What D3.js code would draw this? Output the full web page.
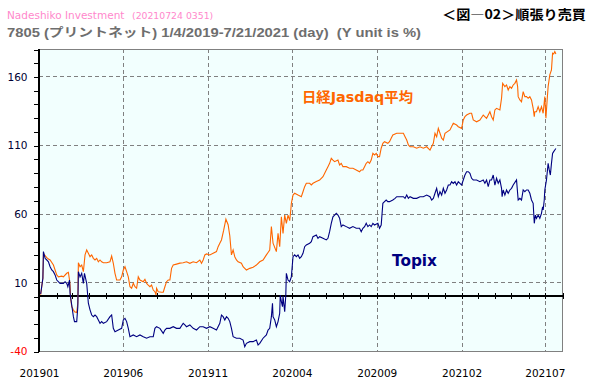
<!DOCTYPE html>
<html><head><meta charset="utf-8">
<script src="https://cdn.jsdelivr.net/npm/d3@7"></script>
<style>body{margin:0;background:#fff}svg{display:block}</style>
</head><body>
<script>
// ---- data ----
const seriesNames = ["日経Jasdaq平均", "Topix"];
const yLabelValues = [160, 110, 60, 10, -40];
const xLabelDates = ["2019-01-01","2019-06-01","2019-11-01","2020-04-01","2020-09-01","2021-02-01","2021-07-01"];
const xLabels = ["201901","201906","201911","202004","202009","202102","202107"];

const jasdaq = [["2019-01-04",1],["2019-01-08",13],["2019-01-09",31],["2019-01-15",28],["2019-01-18",27],["2019-01-21",26.3],["2019-01-27",22.6],["2019-02-02",15.4],["2019-02-05",14],["2019-02-11",14.5],["2019-02-14",14],["2019-02-20",16.6],["2019-02-23",17.3],["2019-02-25",11.7],["2019-02-26",8],["2019-02-27",-1.6],["2019-03-01",-7.7],["2019-03-04",-10],["2019-03-06",-11.4],["2019-03-10",-12],["2019-03-12",-5],["2019-03-13",24.3],["2019-03-16",21.4],["2019-03-19",22.6],["2019-03-22",17.8],["2019-03-25",30],["2019-03-28",33.6],["2019-03-31",31.2],["2019-04-03",28.7],["2019-04-06",30],["2019-04-09",27.5],["2019-04-12",26.3],["2019-04-15",27.5],["2019-04-18",25],["2019-04-21",26.3],["2019-04-24",25],["2019-04-27",24.3],["2019-05-03",24.3],["2019-05-09",25],["2019-05-12",29.2],["2019-05-15",23.9],["2019-05-18",16.6],["2019-05-21",11.7],["2019-05-27",11.7],["2019-05-30",14],["2019-06-02",19],["2019-06-05",21.4],["2019-06-08",17.8],["2019-06-11",14],["2019-06-14",6.8],["2019-06-17",5.7],["2019-06-20",9.3],["2019-06-23",6.8],["2019-06-26",5.7],["2019-06-29",14],["2019-07-02",11.7],["2019-07-08",10.5],["2019-07-11",12.2],["2019-07-14",9.3],["2019-07-17",8],["2019-07-20",6.8],["2019-07-23",8],["2019-07-26",4.4],["2019-07-29",3.2],["2019-07-31",0.8],["2019-08-01",5.7],["2019-08-04",3.2],["2019-08-10",2.8],["2019-08-13",2.8],["2019-08-16",6.8],["2019-08-19",10.5],["2019-08-22",11.7],["2019-08-25",11.7],["2019-08-28",20.2],["2019-08-31",22.6],["2019-09-06",23.3],["2019-09-12",24],["2019-09-18",24.3],["2019-09-24",25],["2019-09-30",23.9],["2019-10-06",25],["2019-10-12",24.3],["2019-10-18",26.3],["2019-10-21",23.9],["2019-10-24",26.3],["2019-10-27",30],["2019-10-30",30.7],["2019-11-05",30],["2019-11-11",31.2],["2019-11-17",32.4],["2019-11-20",36],["2019-11-23",38.5],["2019-11-26",40.9],["2019-11-30",48],["2019-12-04",56],["2019-12-08",52],["2019-12-11",44],["2019-12-14",30],["2019-12-17",33.6],["2019-12-20",28.7],["2019-12-23",26.3],["2019-12-26",25],["2020-01-01",23.9],["2020-01-04",21.4],["2020-01-07",20.2],["2020-01-10",19],["2020-01-16",20.2],["2020-01-22",21],["2020-01-28",22.6],["2020-02-03",25],["2020-02-09",26.3],["2020-02-15",30],["2020-02-18",31.8],["2020-02-21",33.6],["2020-02-24",50.6],["2020-02-27",38.5],["2020-03-04",32.4],["2020-03-07",45.7],["2020-03-10",36],["2020-03-13",57.8],["2020-03-16",45.7],["2020-03-19",59],["2020-03-22",53],["2020-03-25",59],["2020-03-28",55],["2020-03-30",62.7],["2020-03-31",67.6],["2020-04-03",73.6],["2020-04-06",74.9],["2020-04-12",73.6],["2020-04-18",72.4],["2020-04-21",76],["2020-04-24",79.7],["2020-04-27",82.2],["2020-05-03",82.2],["2020-05-06",81],["2020-05-09",82.2],["2020-05-15",83.4],["2020-05-21",84.6],["2020-05-24",85.8],["2020-05-27",87],["2020-06-02",91.9],["2020-06-05",94.3],["2020-06-08",96.7],["2020-06-11",100.4],["2020-06-14",99.1],["2020-06-17",97.9],["2020-06-23",99.1],["2020-06-26",95.5],["2020-06-29",96.7],["2020-07-02",94.3],["2020-07-08",94.3],["2020-07-14",93.1],["2020-07-20",93.1],["2020-07-26",91.9],["2020-08-01",90.6],["2020-08-04",91.9],["2020-08-07",91.9],["2020-08-10",94.3],["2020-08-13",96.7],["2020-08-16",97.9],["2020-08-19",96.7],["2020-08-22",99.1],["2020-08-25",104],["2020-08-28",102.8],["2020-08-31",104],["2020-09-03",101.6],["2020-09-06",101.6],["2020-09-09",107.7],["2020-09-12",111.3],["2020-09-15",112.5],["2020-09-21",111.3],["2020-09-24",112.5],["2020-09-27",115],["2020-09-30",117.4],["2020-10-07",118.6],["2020-10-13",118.6],["2020-10-19",118.6],["2020-10-22",116.1],["2020-10-25",113.7],["2020-10-28",110.1],["2020-10-31",108.8],["2020-11-06",108.8],["2020-11-12",107.7],["2020-11-18",108.8],["2020-11-24",107.7],["2020-11-30",108.8],["2020-12-06",106.4],["2020-12-12",111.3],["2020-12-15",118.6],["2020-12-18",116.1],["2020-12-21",122.2],["2020-12-24",118.6],["2020-12-27",115],["2020-12-30",113.7],["2021-01-02",118.6],["2021-01-11",121],["2021-01-17",125.9],["2021-01-23",124.6],["2021-01-26",123.4],["2021-02-01",122.2],["2021-02-04",128.3],["2021-02-07",130.7],["2021-02-10",131.9],["2021-02-16",133.2],["2021-02-19",133.2],["2021-02-22",128.3],["2021-02-28",127],["2021-03-06",128.3],["2021-03-12",131.9],["2021-03-18",129.5],["2021-03-21",131.9],["2021-03-24",134.3],["2021-03-27",130.7],["2021-03-30",128.3],["2021-04-02",135.6],["2021-04-05",136.8],["2021-04-11",135.6],["2021-04-14",144.1],["2021-04-16",155],["2021-04-20",152.6],["2021-04-23",153.8],["2021-04-26",150.1],["2021-04-29",152.6],["2021-05-02",151.4],["2021-05-05",153.8],["2021-05-08",155],["2021-05-11",157.4],["2021-05-13",152.6],["2021-05-14",145.3],["2021-05-17",142.9],["2021-05-20",141.6],["2021-05-23",148.9],["2021-05-26",145.3],["2021-05-29",145.3],["2021-06-01",144.1],["2021-06-04",145.3],["2021-06-07",142.9],["2021-06-10",136.8],["2021-06-12",130.7],["2021-06-13",134.3],["2021-06-16",134.3],["2021-06-19",138],["2021-06-22",134.3],["2021-06-25",138],["2021-06-28",133.2],["2021-07-01",145.3],["2021-07-03",129.5],["2021-07-05",141.6],["2021-07-07",152.6],["2021-07-10",161.1],["2021-07-13",164.8],["2021-07-15",176.9],["2021-07-17",176.4],["2021-07-19",178.1],["2021-07-21",176.4]];

const topix = [["2019-01-04",1.5],["2019-01-08",13],["2019-01-09",32.4],["2019-01-12",27.5],["2019-01-15",26.3],["2019-01-18",25],["2019-01-21",21.4],["2019-01-24",19],["2019-01-27",17.8],["2019-01-30",15.4],["2019-02-02",11.7],["2019-02-08",9.3],["2019-02-14",9.3],["2019-02-17",10.5],["2019-02-20",9.3],["2019-02-22",6.8],["2019-02-25",11.7],["2019-02-26",2],["2019-03-01",-6.5],["2019-03-04",-15],["2019-03-06",-18.6],["2019-03-10",-18.6],["2019-03-12",-7.7],["2019-03-13",17.8],["2019-03-16",14],["2019-03-19",16.6],["2019-03-22",9.3],["2019-03-24",16.6],["2019-03-28",9.3],["2019-03-31",-5.2],["2019-04-03",-10],["2019-04-06",-13.8],["2019-04-09",-15],["2019-04-12",-13.8],["2019-04-15",-15],["2019-04-18",-17.4],["2019-04-21",-19.8],["2019-04-24",-18.6],["2019-04-27",-19.8],["2019-05-03",-18.6],["2019-05-09",-15],["2019-05-12",-13.8],["2019-05-15",-23.5],["2019-05-18",-25.9],["2019-05-24",-24.7],["2019-05-30",-23.5],["2019-06-02",-17.4],["2019-06-05",-16.2],["2019-06-08",-18.6],["2019-06-11",-23.5],["2019-06-14",-29.6],["2019-06-20",-28.3],["2019-06-26",-29.6],["2019-07-02",-28.3],["2019-07-08",-29.6],["2019-07-14",-30.7],["2019-07-20",-29.6],["2019-07-26",-29.6],["2019-07-29",-23.5],["2019-08-01",-22.3],["2019-08-07",-23.5],["2019-08-13",-27.1],["2019-08-16",-24.7],["2019-08-19",-23.5],["2019-08-25",-23.5],["2019-08-31",-22.3],["2019-09-06",-23.5],["2019-09-12",-23.5],["2019-09-18",-19.8],["2019-09-21",-21],["2019-09-24",-22.3],["2019-09-30",-21],["2019-10-06",-23.5],["2019-10-12",-24.7],["2019-10-18",-22.3],["2019-10-24",-22.3],["2019-10-30",-23.5],["2019-11-05",-22.3],["2019-11-11",-23.5],["2019-11-17",-24.7],["2019-11-23",-19.8],["2019-11-26",-13.8],["2019-11-29",-15],["2019-12-02",-17.4],["2019-12-05",-15],["2019-12-08",-16.2],["2019-12-11",-18.6],["2019-12-14",-23.5],["2019-12-17",-29.6],["2019-12-23",-30.7],["2019-12-29",-30.7],["2020-01-04",-32],["2020-01-07",-36.9],["2020-01-10",-34.4],["2020-01-16",-33.2],["2020-01-22",-33.2],["2020-01-28",-32],["2020-01-31",-35.6],["2020-02-03",-34.4],["2020-02-09",-30.7],["2020-02-15",-28.3],["2020-02-18",-24.7],["2020-02-21",-23.5],["2020-02-24",-15],["2020-02-26",-5.2],["2020-02-27",-15],["2020-03-01",-17.4],["2020-03-04",-22.3],["2020-03-07",-18.6],["2020-03-10",-12.5],["2020-03-11",0.8],["2020-03-13",-4],["2020-03-15",-7.7],["2020-03-16",0],["2020-03-19",-11.4],["2020-03-21",0.8],["2020-03-22",16.6],["2020-03-25",11.7],["2020-03-28",10.5],["2020-03-31",14],["2020-04-03",28.7],["2020-04-06",30],["2020-04-09",28.7],["2020-04-12",30],["2020-04-15",27.5],["2020-04-18",28.7],["2020-04-21",31.2],["2020-04-24",36],["2020-04-27",37.3],["2020-05-03",38.5],["2020-05-06",39.7],["2020-05-09",43.3],["2020-05-15",44.5],["2020-05-18",42.1],["2020-05-21",43.3],["2020-05-27",42.1],["2020-06-02",40.9],["2020-06-05",42.1],["2020-06-08",46.9],["2020-06-11",53],["2020-06-14",57.8],["2020-06-17",59],["2020-06-20",60.3],["2020-06-23",59],["2020-06-26",56.7],["2020-06-29",50.6],["2020-07-02",51.8],["2020-07-08",50.6],["2020-07-14",49.4],["2020-07-20",50.6],["2020-07-26",49.4],["2020-08-01",49.4],["2020-08-04",46.9],["2020-08-07",49.4],["2020-08-10",50.6],["2020-08-13",53],["2020-08-16",50.6],["2020-08-19",51.8],["2020-08-22",50.6],["2020-08-25",53],["2020-08-28",51.8],["2020-09-03",53],["2020-09-06",49.4],["2020-09-09",51.8],["2020-09-12",67.6],["2020-09-15",68.8],["2020-09-18",70],["2020-09-21",68.8],["2020-09-24",68.8],["2020-09-30",70],["2020-10-04",71.2],["2020-10-07",72.4],["2020-10-13",72.4],["2020-10-19",72.4],["2020-10-22",71.2],["2020-10-25",73.6],["2020-10-28",71.2],["2020-10-31",72.4],["2020-11-06",71.2],["2020-11-12",71.2],["2020-11-18",72.4],["2020-11-24",72.4],["2020-11-30",73.6],["2020-12-06",72.4],["2020-12-09",70],["2020-12-12",71.2],["2020-12-15",74.9],["2020-12-18",78.5],["2020-12-21",72.4],["2020-12-24",76.1],["2020-12-27",73.6],["2020-12-30",78.5],["2021-01-02",74.9],["2021-01-05",77.3],["2021-01-08",80.9],["2021-01-11",80.9],["2021-01-14",83.3],["2021-01-17",82.1],["2021-01-20",83.3],["2021-01-23",80.9],["2021-01-26",83.3],["2021-01-29",82.1],["2021-02-01",80.9],["2021-02-04",84.6],["2021-02-07",88.2],["2021-02-10",90.6],["2021-02-13",90.6],["2021-02-16",89.4],["2021-02-19",85.8],["2021-02-22",84.6],["2021-02-28",84.6],["2021-03-06",83.3],["2021-03-12",84.6],["2021-03-15",82.2],["2021-03-18",84.6],["2021-03-21",79.7],["2021-03-24",84.6],["2021-03-27",84.6],["2021-03-30",88.2],["2021-04-02",80.9],["2021-04-05",85.8],["2021-04-08",82.2],["2021-04-11",84.6],["2021-04-14",78.5],["2021-04-15",72.4],["2021-04-17",77.3],["2021-04-20",73.6],["2021-04-23",77.3],["2021-04-26",74.9],["2021-04-29",77.3],["2021-05-02",78.5],["2021-05-05",80.9],["2021-05-11",84.6],["2021-05-14",70],["2021-05-17",71.2],["2021-05-20",70],["2021-05-23",77.3],["2021-05-26",76.1],["2021-05-29",77.3],["2021-06-01",77.3],["2021-06-04",74.9],["2021-06-07",70],["2021-06-10",67.6],["2021-06-12",53],["2021-06-14",59],["2021-06-16",56.7],["2021-06-19",59],["2021-06-22",56.7],["2021-06-25",60.3],["2021-06-27",65.1],["2021-06-28",62.7],["2021-06-30",70],["2021-07-01",77.3],["2021-07-04",84.6],["2021-07-07",96.7],["2021-07-09",91.9],["2021-07-11",88.2],["2021-07-13",96.7],["2021-07-15",104],["2021-07-17",105.2],["2021-07-20",107],["2021-07-21",107.5]];

// ---- chart ----
const W = 590, H = 390;
const L = 39, R = 562, T = 49, B = 351;
const parse = d3.timeParse("%Y-%m-%d");
const x = d3.scaleTime().domain([parse("2019-01-01"), parse("2021-08-01")]).range([L, R]);
const y = d3.scaleLinear().domain([-40, 180]).range([B, T]);
const FONT = "'DejaVu Sans', Verdana, sans-serif";

const svg = d3.select("body").append("svg").attr("width", W).attr("height", H)
  .style("font-family", FONT);

svg.append("rect").attr("x", L).attr("y", T).attr("width", R - L).attr("height", B - T)
  .attr("fill", "#f2fffe");

// horizontal dashed grid
svg.append("g").selectAll("line").data(yLabelValues.filter(v => v > -40)).join("line")
  .attr("x1", L).attr("x2", R)
  .attr("y1", d => Math.round(y(d)) + 0.5).attr("y2", d => Math.round(y(d)) + 0.5)
  .attr("stroke", "#808080").attr("stroke-dasharray", "4,3").attr("shape-rendering", "crispEdges");

// vertical dashed grid
svg.append("g").selectAll("line").data(xLabelDates.slice(1)).join("line")
  .attr("x1", d => Math.round(x(parse(d))) + 0.5).attr("x2", d => Math.round(x(parse(d))) + 0.5)
  .attr("y1", T).attr("y2", B)
  .attr("stroke", "#808080").attr("stroke-dasharray", "4,3").attr("shape-rendering", "crispEdges");

// frame (top/right/bottom gray)
svg.append("path").attr("d", `M${L},${T + 0.5}H${R + 0.5}V${B + 0.5}H${L}`)
  .attr("fill", "none").attr("stroke", "#808080").attr("shape-rendering", "crispEdges");

// zero line with monthly ticks
const y0 = Math.round(y(0));
svg.append("line").attr("x1", L).attr("x2", R + 1).attr("y1", y0).attr("y2", y0)
  .attr("stroke", "#000").attr("stroke-width", 2).attr("shape-rendering", "crispEdges");
const months = d3.timeMonth.range(parse("2019-02-01"), d3.timeDay.offset(parse("2021-08-01"), 1));
const xTickAxis = d3.axisBottom(x).tickValues(months).tickSize(6).tickFormat("");
svg.append("g").attr("transform", `translate(0.5,${y0 - 3})`).call(xTickAxis)
  .call(g => g.select(".domain").remove())
  .call(g => g.selectAll(".tick line").attr("stroke", "#000").attr("shape-rendering", "crispEdges"));

// x labels
const xLabAxis = d3.axisBottom(x).tickValues(xLabelDates.map(parse)).tickSize(0).tickPadding(18.5)
  .tickFormat((d, i) => xLabels[i]);
svg.append("g").attr("transform", `translate(0,${B})`).call(xLabAxis)
  .call(g => g.select(".domain").remove())
  .call(g => g.selectAll("text").attr("fill", "#000").style("font-size", "10.5px").style("font-family", FONT));

// left axis minor ticks + labels
const yAxis = d3.axisLeft(y).tickValues(d3.range(-40, 181, 10)).tickSize(5).tickPadding(6.5)
  .tickFormat(d => yLabelValues.includes(d) ? String(d) : "");
svg.append("g").attr("transform", `translate(${L},0.5)`).call(yAxis)
  .call(g => g.select(".domain").remove())
  .call(g => g.selectAll(".tick line").attr("stroke", "#000").attr("shape-rendering", "crispEdges"))
  .call(g => g.selectAll("text").style("font-size", "10.5px").style("font-family", FONT)
    .attr("fill", d => d < 0 ? "#ff0000" : "#000033"));
svg.append("line").attr("x1", L).attr("x2", L).attr("y1", T).attr("y2", B + 1)
  .attr("stroke", "#000").attr("stroke-width", 2).attr("shape-rendering", "crispEdges");

// series lines
const line = d3.line().x(d => x(parse(d[0]))).y(d => y(d[1]));
svg.append("path").datum(jasdaq).attr("d", line).attr("fill", "none")
  .attr("stroke", "#ff6600").attr("stroke-width", 1.1);
svg.append("path").datum(topix).attr("d", line).attr("fill", "none")
  .attr("stroke", "#000080").attr("stroke-width", 1.1);

// series labels
svg.append("text").attr("x", 302).attr("y", 102).text(seriesNames[0])
  .attr("fill", "#ff6600").attr("font-weight", "bold").style("font-size", "14px")
  .style("font-family", "'DejaVu Sans', 'Noto Sans CJK JP', sans-serif")
  .attr("textLength", 111).attr("lengthAdjust", "spacingAndGlyphs");
svg.append("text").attr("x", 392).attr("y", 266).text(seriesNames[1])
  .attr("fill", "#000080").attr("font-weight", "bold").style("font-size", "15px")
  .attr("textLength", 45).attr("lengthAdjust", "spacingAndGlyphs");

// header
svg.append("text").attr("x", 7).attr("y", 19).text("Nadeshiko Investment")
  .attr("fill", "#ff88cc").style("font-size", "10.5px");
svg.append("text").attr("x", 132).attr("y", 19).text("(20210724 0351)")
  .attr("fill", "#ff88cc").style("font-size", "9.3px");
svg.append("text").attr("x", 7).attr("y", 37).attr("xml:space", "preserve")
  .style("white-space", "pre")
  .text("7805 (プリントネット) 1/4/2019-7/21/2021 (day)  (Y unit is %)")
  .attr("fill", "#6e6e6e").attr("font-weight", "bold").style("font-size", "12px")
  .style("font-family", "'Liberation Sans', Arial, 'Noto Sans CJK JP', sans-serif")
  .attr("textLength", 414).attr("lengthAdjust", "spacingAndGlyphs");
svg.append("text").attr("x", 586).attr("y", 19).attr("text-anchor", "end")
  .text("＜図―02＞順張り売買")
  .attr("fill", "#000").attr("font-weight", "bold").style("font-size", "13px")
  .style("font-family", "'Noto Sans CJK JP', sans-serif")
  .attr("textLength", 144).attr("lengthAdjust", "spacingAndGlyphs");
</script>
</body></html>
